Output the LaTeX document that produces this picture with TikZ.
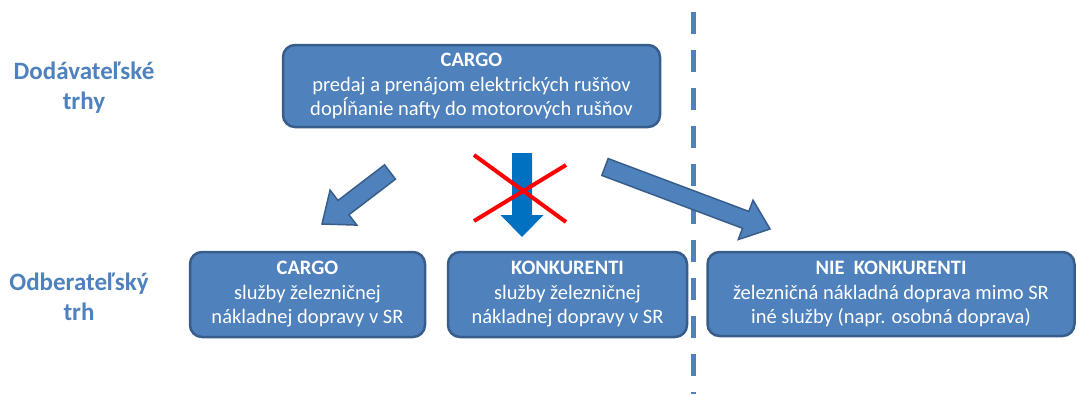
\documentclass[tikz,border=0pt]{standalone}
\usepackage{fontspec}
\setmainfont{Carlito}
\usetikzlibrary{calc}
\definecolor{boxfill}{HTML}{4F81BD}
\definecolor{boxline}{HTML}{385D8A}
\definecolor{midblue}{HTML}{0070C0}
\newcommand{\blockarrow}[6]{% start, end, half shaft, half head, head length, style
  \path (#1) coordinate (ba-s) (#2) coordinate (ba-e);
  \path ($(ba-e)!#5!(ba-s)$) coordinate (ba-c);
  \filldraw[#6] ($(ba-s)!#3!90:(ba-e)$) -- ($(ba-c)!#3!90:(ba-e)$) -- ($(ba-c)!#4!90:(ba-e)$)
    -- (ba-e) -- ($(ba-c)!#4!-90:(ba-e)$) -- ($(ba-c)!#3!-90:(ba-e)$) -- ($(ba-s)!#3!-90:(ba-e)$) -- cycle;
}
\tikzset{
  box/.style={draw=boxline, fill=boxfill, line width=2.5pt, rounded corners=12pt,
    text=white, align=center, font=\fontsize{20.5}{24.5}\selectfont, inner sep=0pt},
  side/.style={text=boxfill, font=\fontsize{25}{30}\selectfont\bfseries, align=center},
  barrow/.style={fill=boxfill, draw=boxline, line width=1.5pt, line join=miter},
  marrow/.style={fill=midblue, draw=none},
  cross/.style={draw=red, line width=4pt},
  divider/.style={draw=boxfill, line width=5pt, dash pattern=on 22pt off 16pt},
}
\begin{document}
\begin{tikzpicture}[x=1pt,y=-1pt]
\useasboundingbox (0,0) rectangle (1078,394);
% divider
\coordinate (dtop) at (693,12);
\coordinate (dbot) at (693,394);
\draw[divider] (dtop) -- (dbot);
% side labels
\node[side] (dod) at (84,88) {Dodávateľské\\trhy};
\node[side] (odb) at (79,297) {Odberateľský\\trh};
% boxes
\node[box, minimum width=377pt, minimum height=82pt] (top) at (471.5,86)
  {\textbf{CARGO}\\predaj a prenájom elektrických rušňov\\dopĺňanie nafty do motorových rušňov};
\node[box, minimum width=235pt, minimum height=85pt] (cargo) at (307.5,294.5)
  {\textbf{CARGO}\\služby železničnej\\nákladnej dopravy v SR};
\node[box, minimum width=239pt, minimum height=85pt] (konk) at (567.5,294.5)
  {\textbf{KONKURENTI}\\služby železničnej\\nákladnej dopravy v SR};
\node[box, minimum width=367pt, minimum height=84pt] (nie) at (891,294)
  {\textbf{NIE\ \ KONKURENTI}\\železničná nákladná doprava mimo SR\\iné služby (napr. osobná doprava)};
% arrows
\coordinate (la-s) at (390,172);
\coordinate (la-e) at (322,224);
\blockarrow{la-s}{la-e}{9pt}{22pt}{27pt}{barrow}
\coordinate (ma-s) at (522,153);
\coordinate (ma-e) at (522,237);
\blockarrow{ma-s}{ma-e}{10pt}{21.5pt}{22pt}{marrow}
\coordinate (ra-s) at (605,167);
\coordinate (ra-e) at (770,229);
\blockarrow{ra-s}{ra-e}{9pt}{21pt}{26pt}{barrow}
% red cross
\coordinate (x1a) at (474,155);
\coordinate (x1b) at (566,222);
\coordinate (x2a) at (474,221);
\coordinate (x2b) at (566,165);
\draw[cross] (x1a) -- (x1b);
\draw[cross] (x2a) -- (x2b);
\end{tikzpicture}
\end{document}
